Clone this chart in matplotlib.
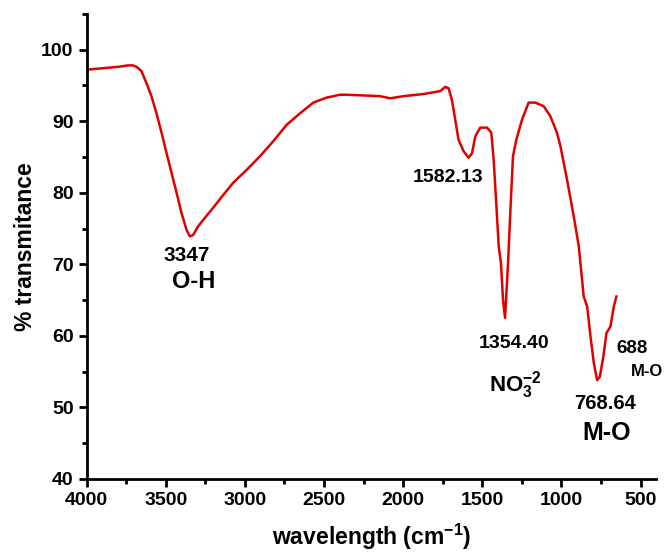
import matplotlib
matplotlib.use("Agg")
import matplotlib.pyplot as plt
from matplotlib.ticker import MultipleLocator

plt.rcParams['font.family'] = ['Liberation Sans', 'DejaVu Sans']
plt.rcParams['font.weight'] = 'bold'
plt.rcParams['mathtext.fontset'] = 'custom'
plt.rcParams['mathtext.rm'] = 'Liberation Sans:bold'
plt.rcParams['mathtext.it'] = 'Liberation Sans:bold'
plt.rcParams['mathtext.bf'] = 'Liberation Sans:bold'

# FTIR spectrum
wavenumber = [4000, 3900, 3800, 3740, 3709, 3685, 3654, 3622, 3591, 3559,
              3527, 3496, 3464, 3432, 3401, 3369, 3348, 3327, 3296, 3253,
              3201, 3137, 3074, 2989, 2905, 2821, 2736, 2652, 2568, 2483,
              2399, 2356, 2251, 2146, 2082, 1998, 1871, 1766, 1734, 1713,
              1692, 1671, 1650, 1618, 1587, 1565, 1544, 1513, 1470, 1443,
              1428, 1413, 1396, 1382, 1369, 1356, 1350, 1337, 1323, 1306,
              1285, 1249, 1207, 1165, 1112, 1070, 1028, 1006, 964, 922,
              890, 859, 837, 816, 795, 774, 757, 735, 715, 690,
              669, 652]
transmittance = [97.2, 97.4, 97.6, 97.8, 97.8, 97.6, 97.0, 95.3, 93.5, 91.1,
                 88.4, 85.6, 82.8, 80.0, 77.2, 74.8, 73.9, 74.1, 75.3, 76.5,
                 77.9, 79.7, 81.4, 83.2, 85.1, 87.2, 89.5, 91.1, 92.6, 93.3,
                 93.7, 93.7, 93.6, 93.5, 93.2, 93.5, 93.8, 94.2, 94.8, 94.6,
                 93.0, 90.2, 87.4, 85.8, 84.9, 85.5, 87.9, 89.1, 89.1, 88.4,
                 84.6, 79.0, 72.5, 70.2, 65.0, 62.5, 65.0, 70.2, 77.2, 85.1,
                 87.4, 90.2, 92.6, 92.6, 92.1, 90.7, 88.4, 86.5, 81.8, 76.7,
                 72.5, 65.5, 64.1, 59.9, 56.2, 53.8, 54.3, 57.1, 60.4, 61.3,
                 64.1, 65.5]

x_ticks = [4000, 3500, 3000, 2500, 2000, 1500, 1000, 500]
y_ticks = [40, 50, 60, 70, 80, 90, 100]

fig = plt.figure(figsize=(6.67, 5.55), dpi=100)
ax = fig.add_axes([0.130, 0.137, 0.854, 0.838])

ax.plot(wavenumber, transmittance, color='#e00000', lw=1.8)

ax.set_xlim(4000, 400)
ax.set_ylim(40, 105)
ax.set_xticks(x_ticks)
ax.set_yticks(y_ticks)
ax.xaxis.set_minor_locator(MultipleLocator(250))
ax.yaxis.set_minor_locator(MultipleLocator(5))
ax.tick_params(which='major', direction='out', length=6, width=2, labelsize=14)
ax.tick_params(which='minor', direction='out', length=3.5, width=2)
for lab in ax.get_xticklabels() + ax.get_yticklabels():
    lab.set_fontweight('bold')

ax.spines['top'].set_visible(False)
ax.spines['right'].set_visible(False)
ax.spines['left'].set_linewidth(2)
ax.spines['bottom'].set_linewidth(2)

ax.set_xlabel('wavelength (cm$^{-1}$)', fontsize=16.5, fontweight='bold', labelpad=9)
ax.set_ylabel('% transmitance', fontsize=16.5, fontweight='bold', labelpad=3)

# peak labels
ax.text(3367, 71.3, '3347', fontsize=15, ha='center', va='center')
ax.text(3323, 67.6, 'O-H', fontsize=17, ha='center', va='center')
ax.text(1715, 82.1, '1582.13', fontsize=14, ha='center', va='center')
ax.text(1297, 59.0, '1354.40', fontsize=14, ha='center', va='center')
ax.text(1290, 53.1, 'NO$_3^{-2}$', fontsize=16, ha='center', va='center')
ax.text(551, 58.3, '688', fontsize=13.5, ha='center', va='center')
ax.text(456, 55.0, 'M-O', fontsize=12, ha='center', va='center')
ax.text(722, 50.6, '768.64', fontsize=14.5, ha='center', va='center')
ax.text(716, 46.4, 'M-O', fontsize=18, ha='center', va='center')

fig.savefig('out.png', dpi=100)
